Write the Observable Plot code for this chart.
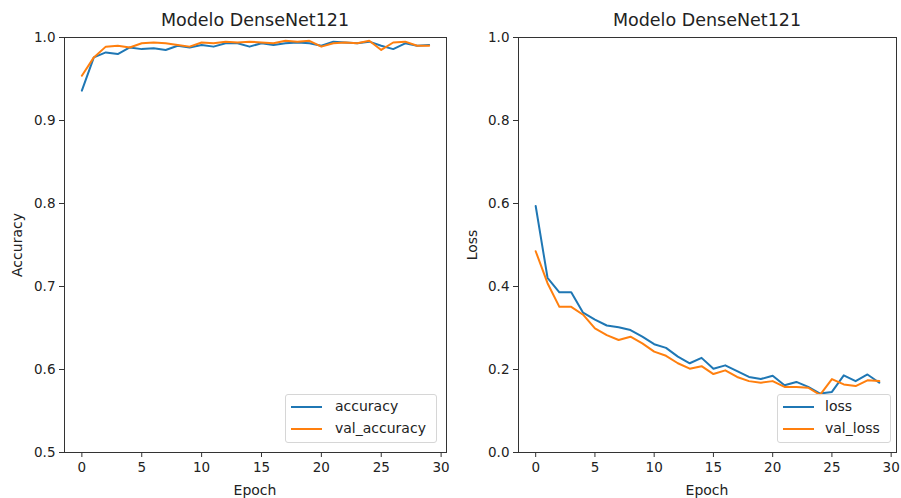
<!DOCTYPE html>
<html>
<head>
<meta charset="utf-8">
<script src="https://cdn.jsdelivr.net/npm/d3@7"></script>
<script src="https://cdn.jsdelivr.net/npm/@observablehq/plot@0.6"></script>
<style>
  html, body { margin: 0; padding: 0; background: #fff; }
  #wrap { position: relative; width: 901px; height: 498px; font-family: "DejaVu Sans", sans-serif; color: #222; overflow: hidden; }
  .pane { position: absolute; top: 0; }
  .title { position: absolute; font-size: 17.5px; transform: translateX(-50%); white-space: nowrap; line-height: 1; }
  .xlabel { position: absolute; font-size: 14px; transform: translateX(-50%); white-space: nowrap; line-height: 1; }
  .ylabel { position: absolute; font-size: 14px; transform: translate(-50%, -50%) rotate(-90deg); white-space: nowrap; line-height: 1; }
  .legend { position: absolute; border: 1px solid #d6d6d6; border-radius: 3px; background: rgba(255,255,255,0.85); box-sizing: border-box; }
  .legend .row { position: absolute; font-size: 14px; line-height: 1; white-space: nowrap; }
  .legend .swatch { position: absolute; height: 2px; }
</style>
</head>
<body>
<div id="wrap"></div>
<script>
// ---- Data ----
const epochs = [0,1,2,3,4,5,6,7,8,9,10,11,12,13,14,15,16,17,18,19,20,21,22,23,24,25,26,27,28,29];
const accuracy = [0.936,0.976,0.982,0.980,0.988,0.986,0.987,0.985,0.990,0.988,0.991,0.989,0.993,0.993,0.989,0.993,0.991,0.993,0.994,0.993,0.990,0.995,0.994,0.993,0.995,0.990,0.986,0.993,0.990,0.991];
const valAccuracy = [0.954,0.976,0.989,0.990,0.988,0.993,0.994,0.993,0.991,0.989,0.994,0.993,0.995,0.994,0.995,0.994,0.993,0.996,0.995,0.996,0.989,0.993,0.994,0.993,0.996,0.985,0.994,0.995,0.990,0.990];
const loss = [0.594,0.421,0.386,0.386,0.337,0.320,0.306,0.302,0.295,0.279,0.261,0.252,0.231,0.215,0.228,0.202,0.210,0.196,0.182,0.177,0.185,0.162,0.170,0.158,0.142,0.146,0.186,0.172,0.188,0.168];
const valLoss = [0.485,0.408,0.351,0.351,0.332,0.299,0.283,0.271,0.279,0.263,0.243,0.233,0.215,0.202,0.208,0.189,0.198,0.182,0.172,0.168,0.172,0.158,0.158,0.156,0.139,0.177,0.164,0.160,0.174,0.172];
const xTicks = [0,5,10,15,20,25,30];
const accTicks = [0.5,0.6,0.7,0.8,0.9,1.0];
const lossTicks = [0.0,0.2,0.4,0.6,0.8,1.0];
const titleText = "Modelo DenseNet121";
const blue = "#1f77b4", orange = "#ff7f0e";

const wrap = document.getElementById("wrap");

function panel({left, width, mLeft, mRight, yDomain, yTicks, s1, s2, n1, n2, ylabel, ylabelX, legend}) {
  const H = 498, mTop = 37, mBottom = 46;
  const rows = [];
  epochs.forEach((e, i) => { rows.push({epoch: e, v: s1[i], k: n1}); rows.push({epoch: e, v: s2[i], k: n2}); });
  const chart = Plot.plot({
    width, height: H,
    marginLeft: mLeft, marginRight: mRight, marginTop: mTop, marginBottom: mBottom,
    style: {fontFamily: "DejaVu Sans, sans-serif", fontSize: "13.5px", color: "#222", background: "transparent", overflow: "visible"},
    x: {domain: [-1.45, 30.45]},
    y: {domain: yDomain},
    color: {domain: [n1, n2], range: [blue, orange]},
    marks: [
      Plot.axisX({ticks: xTicks, tickSize: 5, tickPadding: 5, label: null, tickFormat: d3.format("d"), stroke: "#333"}),
      Plot.axisY({ticks: yTicks, tickSize: 5, tickPadding: 4, label: null, tickFormat: d3.format(".1f"), stroke: "#333"}),
      Plot.line(rows, {x: "epoch", y: "v", stroke: "k", z: "k", strokeWidth: 2, strokeLinejoin: "round"}),
      Plot.frame({stroke: "#333", strokeWidth: 1})
    ]
  });
  const pane = document.createElement("div");
  pane.className = "pane";
  pane.style.left = left + "px";
  pane.appendChild(chart);
  wrap.appendChild(pane);

  const cx = left + mLeft + (width - mLeft - mRight) / 2;
  const t = document.createElement("div");
  t.className = "title"; t.textContent = titleText;
  t.style.left = cx + "px"; t.style.top = "12px";
  wrap.appendChild(t);

  const xl = document.createElement("div");
  xl.className = "xlabel"; xl.textContent = "Epoch";
  xl.style.left = cx + "px"; xl.style.top = "483px";
  wrap.appendChild(xl);

  const yl = document.createElement("div");
  yl.className = "ylabel"; yl.textContent = ylabel;
  yl.style.left = ylabelX + "px"; yl.style.top = "245px";
  wrap.appendChild(yl);

  const lg = document.createElement("div");
  lg.className = "legend";
  lg.style.left = legend.x + "px"; lg.style.top = legend.y + "px";
  lg.style.width = legend.w + "px"; lg.style.height = legend.h + "px";
  [[n1, blue, 11], [n2, orange, 33]].forEach(([name, col, yy]) => {
    const sw = document.createElement("div");
    sw.className = "swatch";
    sw.style.background = col; sw.style.left = "5px"; sw.style.width = "31px"; sw.style.top = (yy) + "px";
    lg.appendChild(sw);
    const tx = document.createElement("div");
    tx.className = "row"; tx.textContent = name;
    tx.style.left = legend.tx + "px"; tx.style.top = (yy - 7) + "px";
    lg.appendChild(tx);
  });
  wrap.appendChild(lg);
}

panel({left: 0, width: 450, mLeft: 64, mRight: 4, yDomain: [0.5, 1.0], yTicks: accTicks,
  s1: accuracy, s2: valAccuracy, n1: "accuracy", n2: "val_accuracy", ylabel: "Accuracy", ylabelX: 17,
  legend: {x: 285, y: 394, w: 152, h: 49, tx: 49}});
panel({left: 450, width: 451, mLeft: 68, mRight: 5, yDomain: [0.0, 1.0], yTicks: lossTicks,
  s1: loss, s2: valLoss, n1: "loss", n2: "val_loss", ylabel: "Loss", ylabelX: 472,
  legend: {x: 777, y: 394, w: 114, h: 49, tx: 47}});
</script>
</body>
</html>
